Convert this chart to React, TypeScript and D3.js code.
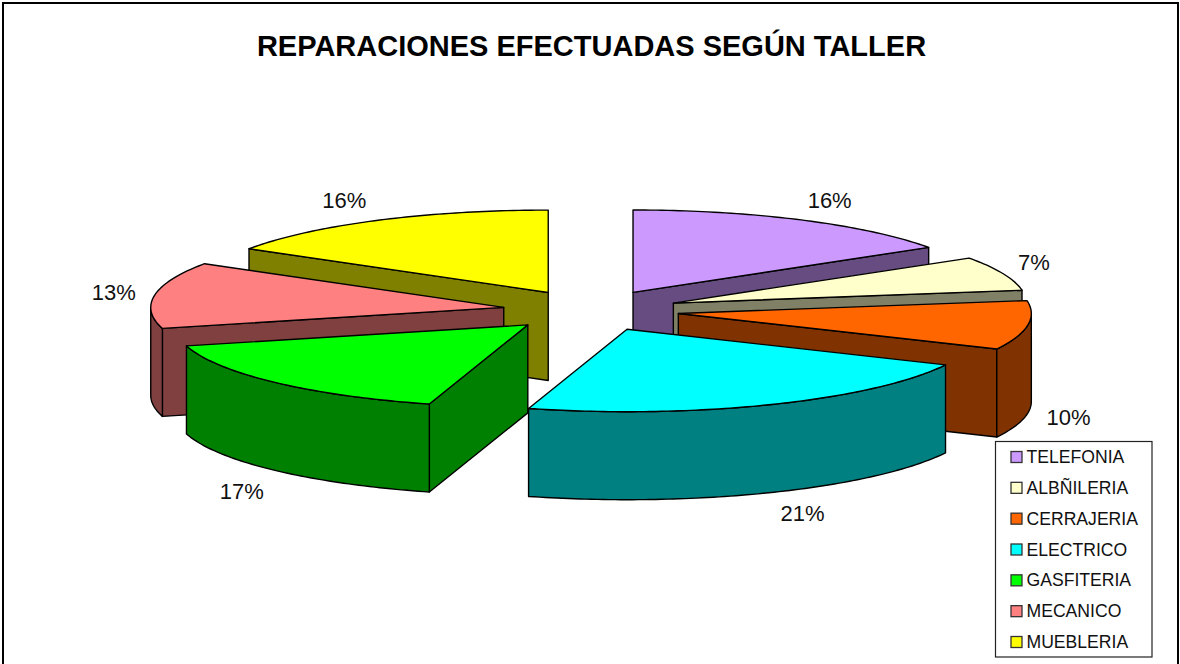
import * as d3 from "d3";

const title = "REPARACIONES EFECTUADAS SEGÚN TALLER";
const categories = ["TELEFONIA", "ALBÑILERIA", "CERRAJERIA", "ELECTRICO", "GASFITERIA", "MECANICO", "MUEBLERIA"];
// slice shares as drawn (the 3d view skews them a little from the printed labels)
const values = [15.8, 6.7, 9.6, 22.4, 16.4, 13, 16.1];
const percentLabels = ["16%", "7%", "10%", "21%", "17%", "13%", "16%"];
const topColors = ["#cc99ff", "#ffffcc", "#ff6600", "#00ffff", "#00ff00", "#ff8080", "#ffff00"];
const sideColors = ["#664c80", "#808066", "#803300", "#008080", "#008000", "#804040", "#808000"];
// back to front
const drawOrder = [6, 5, 0, 1, 2, 4, 3];
// excel's label placement is not quite regular
const labelNudgeX = [5, -15, -8, 11, 2, 8, -9];
const labelNudgeY = [0, -3, 0, -1, 4, 0, 0];

const width = 1180;
const height = 664;
const cx = 591;
const cy = 310.5;
const rx = 353;
const ry = 82.4;
const explode = 0.25;
const depth = 88;
const font = "'Liberation Sans', Arial, sans-serif";

const pie = d3.pie<number>().sort(null).startAngle(0).endAngle(2 * Math.PI);
const arcs = pie(values);

const px = (a: number, r = 1) => rx * r * Math.sin(a);
const py = (a: number, r = 1) => -ry * r * Math.cos(a);
const line = d3.line();

const arcPoints = (a0: number, a1: number, x0: number, y0: number) => {
  const n = Math.max(2, Math.ceil((a1 - a0) * 60));
  return d3.range(n + 1).map((i) => {
    const a = a0 + ((a1 - a0) * i) / n;
    return [x0 + px(a), y0 + py(a)] as [number, number];
  });
};

const Slice = ({ i }: { i: number }) => {
  const { startAngle: a0, endAngle: a1 } = arcs[i];
  const mid = (a0 + a1) / 2;
  const ax = cx + px(mid, explode);
  const ay = cy + py(mid, explode);
  const down = (p: [number, number]) => [p[0], p[1] + depth] as [number, number];
  const stroke = { stroke: "#000", strokeWidth: 1.4, strokeLinejoin: "round" as const };

  const face = (a: number) => {
    const outer: [number, number] = [ax + px(a), ay + py(a)];
    const apex: [number, number] = [ax, ay];
    return line([apex, outer, down(outer), down(apex)]) + "Z";
  };

  // rim is only seen on the front half of the ellipse
  const r0 = Math.max(a0, Math.PI / 2);
  const r1 = Math.min(a1, (3 * Math.PI) / 2);
  const rim = r1 > r0 ? arcPoints(r0, r1, ax, ay) : null;

  return (
    <g>
      {Math.sin(a0) < -0.001 && <path d={face(a0)} fill={sideColors[i]} {...stroke} />}
      {Math.sin(a1) > 0.001 && <path d={face(a1)} fill={sideColors[i]} {...stroke} />}
      {rim && (
        <path d={line([...rim, ...rim.map(down).reverse()]) + "Z"} fill={sideColors[i]} {...stroke} />
      )}
      <path d={line([[ax, ay], ...arcPoints(a0, a1, ax, ay)]) + "Z"} fill={topColors[i]} {...stroke} />
    </g>
  );
};

const App = () => {
  const legendRow = d3.scalePoint<string>().domain(categories).range([457, 642]);

  return (
    <svg
      width={width}
      height={height}
      style={{ position: "fixed", left: 0, top: 0, background: "#fff" }}
      fontFamily={font}
    >
      <rect x={3} y={3} width={width - 5} height={height + 10} fill="#fff" stroke="#000" strokeWidth={2} />
      <text x={591.5} y={55.5} textAnchor="middle" fontSize={29} fontWeight="bold" fill="#000">
        {title}
      </text>

      {drawOrder.map((i) => (
        <Slice key={categories[i]} i={i} />
      ))}

      {arcs.map((d, i) => {
        const mid = (d.startAngle + d.endAngle) / 2;
        const ax = cx + px(mid, explode);
        const ay = cy + py(mid, explode);
        const x = ax + px(mid, 1.14) + labelNudgeX[i];
        const y = ay + py(mid, 1.28) + (Math.cos(mid) < 0 ? depth : 0) + labelNudgeY[i];
        return (
          <text key={i} x={x} y={y} dy={8} textAnchor="middle" fontSize={22} fill="#111">
            {percentLabels[i]}
          </text>
        );
      })}

      <rect x={995.5} y={441.5} width={156.5} height={215.5} fill="#fff" stroke="#222" strokeWidth={1.2} />
      {categories.map((c, i) => {
        const y = legendRow(c) as number;
        return (
          <g key={c}>
            <rect x={1011} y={y - 5.5} width={11} height={11} fill={topColors[i]} stroke="#333" strokeWidth={1.3} />
            <text x={1026.5} y={y} dy={6} fontSize={17.6} fill="#111">
              {c}
            </text>
          </g>
        );
      })}
    </svg>
  );
};

export default App;
